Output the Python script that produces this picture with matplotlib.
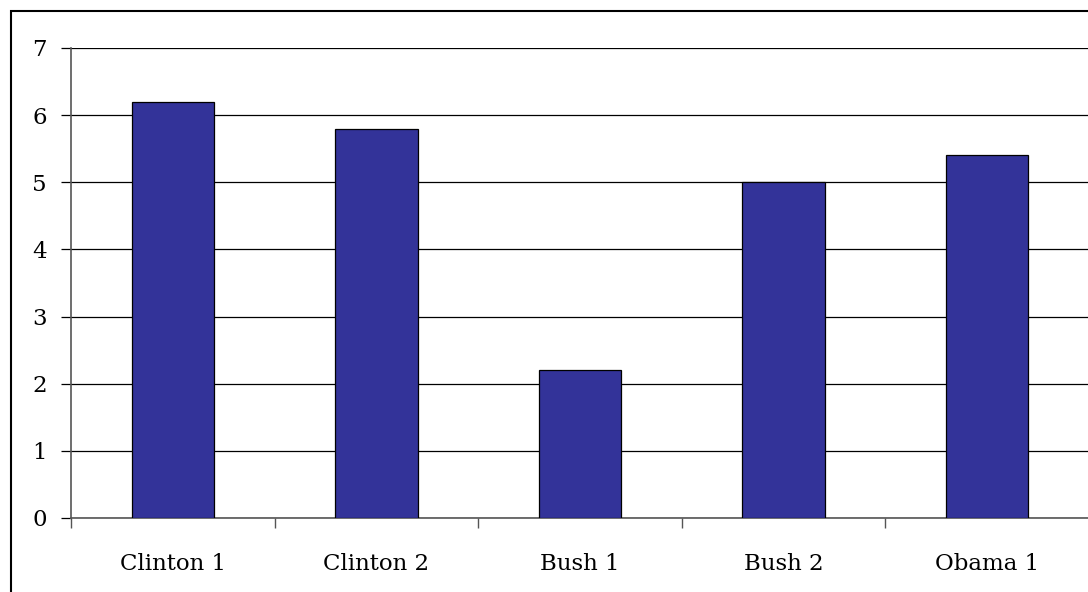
import matplotlib
matplotlib.use("Agg")
import matplotlib.pyplot as plt
from matplotlib.patches import Rectangle
import numpy as np

categories = ["Clinton 1", "Clinton 2", "Bush 1", "Bush 2", "Obama 1"]
values = [6.2, 5.8, 2.2, 5.0, 5.4]
yticks = [0, 1, 2, 3, 4, 5, 6, 7]

W, H = 1088, 592
fig = plt.figure(figsize=(W / 100, H / 100), dpi=100)
fig.patch.set_facecolor("white")

# outer chart border (cropped at right and bottom)
fig.patches.append(Rectangle((11 / W, -20 / H), 1200 / W, (581 + 20) / H,
                             transform=fig.transFigure, fill=False,
                             edgecolor="black", linewidth=1.5, zorder=0))

ax = fig.add_axes([71 / W, 74 / H, 1018 / W, 470 / H])
x = np.arange(len(categories))
ax.bar(x, values, width=0.405, color="#333399", edgecolor="black",
       linewidth=0.9, zorder=3)

ax.set_xlim(-0.5, len(categories) - 0.5)
ax.set_ylim(0, 7)
ax.set_yticks(yticks)
ax.set_yticklabels([str(v) for v in yticks])
ax.yaxis.grid(True, color="black", linewidth=0.9)
ax.set_axisbelow(True)

ax.set_xticks(x)
ax.set_xticklabels(categories)
ax.set_xticks(np.arange(-0.5, len(categories)), minor=True)
ax.tick_params(axis="x", which="major", length=0, pad=25)
ax.tick_params(axis="x", which="minor", length=7.2, width=1, color="#555555")
ax.tick_params(axis="y", length=7.2, width=0.9, color="black", pad=10)

for s in ["top", "right"]:
    ax.spines[s].set_visible(False)
for s in ["left", "bottom"]:
    ax.spines[s].set_color("#555555")
    ax.spines[s].set_linewidth(1.2)

for lab in ax.get_xticklabels() + ax.get_yticklabels():
    lab.set_fontfamily("DejaVu Serif")
    lab.set_fontsize(16.5)
    lab.set_color("black")

fig.savefig("out.png", dpi=100)
